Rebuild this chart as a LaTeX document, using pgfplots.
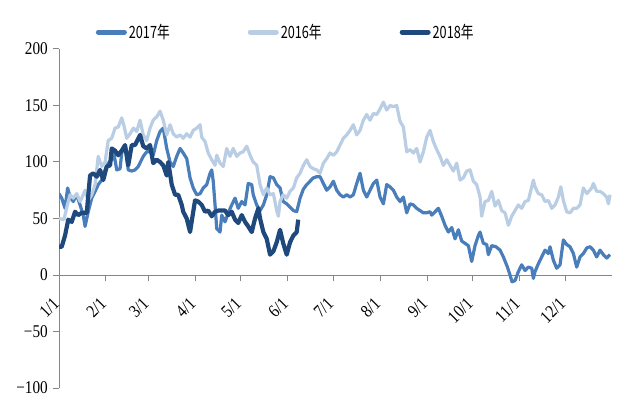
\documentclass[border=0pt]{standalone}
\usepackage{fontspec}
\setmainfont{Liberation Serif}[FakeStretch=0.85]
\newfontfamily\cjk{Noto Sans CJK SC}[FakeStretch=0.75]
\usepackage{pgfplots}
\pgfplotsset{compat=1.18}

\definecolor{c2017}{RGB}{74,126,187}
\definecolor{c2016}{RGB}{185,205,229}
\definecolor{c2018}{RGB}{31,73,125}
\definecolor{axisgray}{RGB}{134,134,134}

\begin{document}
\begin{tikzpicture}
\begin{axis}[
    name=ax,
    scale only axis,
    width=553bp, height=339bp,
    xmin=0, xmax=365, ymin=-100, ymax=200,
    axis x line*=middle, axis y line*=left,
    hide obscured x ticks=false, hide obscured y ticks=false,
    axis line style={draw=axisgray, line width=1bp},
    tick style={draw=axisgray, line width=1bp},
    tick align=outside, major tick length=6bp,
    xtick={0,31,59,90,120,151,181,212,243,273,304,334},
    xticklabels={1/1,2/1,3/1,4/1,5/1,6/1,7/1,8/1,9/1,10/1,11/1,12/1},
    ytick={-100,-50,0,50,100,150,200},
    yticklabels={−100,−50,0,50,100,150,200},
    tick label style={font=\fontsize{18}{18}\selectfont},
    xticklabel style={xshift=-7bp, yshift=-14bp, rotate=45, anchor=north east, inner sep=1bp},
    yticklabel style={inner sep=5bp},
    legend columns=3,
    legend style={at={(0.41,1.05)}, anchor=center, draw=none, fill=none,
        font=\cjk\fontsize{17}{17}\selectfont,
        /tikz/every even column/.append style={column sep=76bp}},
    legend image code/.code={\draw[#1, line width=5bp, line cap=round] (0bp,0bp) -- (26bp,0bp);},
    line join=round,
]
% 2017
\addplot[color=c2017, line width=3.2bp] coordinates {
(0,72)(1.8,68)(4.0,59)(5.7,77)(7.3,69)(9.4,65)(11.7,71)(13.9,62)(16.0,53)(17.2,43)
(19.3,56)(21.6,68)(23.8,74)(25.9,80)(28.2,84)(30.4,93)(32.5,99)(34.8,102)(35.8,111)(38.1,93)
(40.3,94)(41.4,108)(43.6,115)(45.7,93)(48.0,92)(50.2,93)(52.3,96)(55.6,105)(57.9,109)(60.1,109)
(62.2,106)(64.5,119)(66.7,127)(68.8,130)(71.1,112)(73.3,100)(75.4,96)(77.7,105)(79.9,112)(82.0,108)
(84.3,103)(86.5,86)(88.6,77)(90.9,71)(93.1,72)(95.2,77)(97.5,80)(99.7,90)(100.8,93)(101.8,83)
(103.0,62)(104.1,41)(106.3,38)(107.4,53)(109.6,47)(111.7,55)(114.0,62)(116.2,68)(118.3,59)(120.6,65)
(122.8,62)(124.9,81)(127.2,80)(128.2,71)(130.5,62)(132.7,57)(134.9,62)(137.1,71)(139.3,87)(141.5,86)
(143.7,80)(145.9,77)(148.0,65)(150.3,63)(152.5,60)(154.7,57)(156.9,56)(159.1,68)(161.3,76)(163.5,80)
(165.7,83)(167.9,86)(170.1,87)(172.3,87)(174.5,81)(176.7,75)(178.9,78)(181.1,83)(183.3,75)(185.5,71)
(187.7,69)(189.9,71)(192.1,69)(194.3,71)(196.5,81)(198.7,90)(200.9,75)(203.1,69)(205.3,75)(207.5,81)
(209.7,84)(211.9,69)(214.1,63)(216.3,80)(218.5,78)(220.7,75)(222.9,69)(225.1,65)(227.3,69)(229.5,55)
(231.7,63)(233.9,62)(236.1,59)(238.3,57)(240.5,55)(242.7,55)(244.9,56)(246.0,53)(248.2,56)(250.4,59)
(252.6,52)(254.8,44)(257.0,38)(259.2,42)(261.4,32)(263.6,40)(265.8,30)(268.0,28)(270.2,26)(272.4,12)
(274.6,26)(276.8,35)(277.9,38)(280.1,28)(282.3,27)(283.4,18)(285.6,26)(288.4,25)(291.1,22)(293.3,16)
(295.7,8)(297.7,0)(299.0,-6)(301.0,-5)(303.2,3)(305.4,9)(307.6,4)(309.8,7)(312.0,6)(313.1,-3)
(314.2,3)(316.4,10)(318.6,16)(320.8,22)(323.0,19)(324.1,25)(326.3,13)(328.5,6)(330.7,9)(332.9,31)
(335.1,27)(337.3,25)(339.5,19)(341.7,7)(343.9,16)(346.1,19)(348.4,24)(350.5,25)(352.7,22)(354.9,16)
(357.1,22)(359.3,18)(361.5,15)(363.7,18)
};
\addlegendentry{2017年}
% 2016
\addplot[color=c2016, line width=3.2bp] coordinates {
(0,50)(3.3,49)(5.5,62)(7.3,71)(9.4,68)(11.7,72)(13.9,65)(16.0,71)(17.2,75)(19.3,66)
(21.6,71)(23.8,80)(25.9,105)(28.2,96)(30.4,100)(32.5,119)(34.8,121)(37.0,130)(39.1,131)(41.4,139)
(43.1,131)(44.7,121)(46.9,125)(49.1,130)(51.3,127)(53.5,137)(55.6,124)(57.9,119)(60.1,130)(62.2,137)
(64.5,140)(66.7,145)(68.8,137)(71.1,124)(73.3,133)(75.4,125)(77.7,122)(79.9,124)(82.0,121)(84.3,125)
(86.5,122)(88.6,128)(90.9,130)(93.1,133)(94.2,122)(96.4,118)(98.5,108)(100.8,102)(103.0,97)(104.1,106)
(106.3,99)(108.4,96)(110.7,112)(112.9,105)(115.0,112)(117.3,105)(119.5,108)(121.6,109)(123.9,114)(126.1,106)
(128.2,100)(130.5,97)(132.7,80)(134.9,71)(137.1,77)(139.3,71)(141.5,72)(143.7,57)(144.8,52)(145.9,65)
(148.0,71)(150.3,68)(152.5,74)(154.7,77)(156.9,86)(159.1,90)(161.3,97)(163.5,102)(165.7,96)(167.9,94)
(170.1,93)(172.3,90)(174.5,99)(176.7,103)(178.9,108)(181.1,106)(183.3,109)(185.5,115)(187.7,121)(189.9,124)
(192.1,128)(194.3,133)(196.5,124)(198.7,128)(200.9,137)(203.1,142)(205.3,137)(207.5,143)(209.7,142)(211.9,147)
(214.1,153)(216.3,146)(218.5,150)(220.7,149)(222.9,150)(225.1,136)(227.3,131)(229.5,109)(231.7,111)(233.9,108)
(236.1,112)(238.3,100)(240.5,109)(242.7,122)(244.9,128)(247.1,118)(249.3,111)(251.5,105)(253.7,97)(255.9,102)
(258.1,97)(260.3,92)(262.5,99)(264.7,84)(266.9,86)(269.1,92)(271.3,93)(273.5,83)(275.7,80)(277.9,69)
(279.0,52)(281.2,65)(283.4,66)(285.6,74)(287.8,61)(290.0,66)(292.2,57)(294.4,55)(296.6,44)(298.8,52)
(301.0,57)(303.2,62)(305.4,59)(307.6,65)(309.8,66)(310.9,72)(313.1,84)(314.2,78)(316.4,72)(318.6,71)
(320.8,65)(323.0,66)(325.2,59)(327.4,62)(329.6,69)(331.2,78)(332.9,66)(335.1,56)(337.3,55)(339.5,59)
(341.7,59)(343.9,62)(346.1,77)(348.4,72)(351.6,77)(352.7,81)(354.9,74)(357.1,74)(359.3,72)(361.5,69)
(362.6,63)(363.7,71)
};
\addlegendentry{2016年}
% 2018
\addplot[color=c2018, line width=4.2bp] coordinates {
(0,25)(1.8,25)(4.0,35)(6.1,49)(8.4,47)(10.6,56)(12.7,53)(15.0,55)(18.3,55)(20.5,88)
(22.6,90)(24.9,87)(27.1,93)(29.2,84)(31.5,96)(33.7,97)(34.8,112)(37.0,110)(39.1,106)(41.4,110)
(43.6,115)(45.7,97)(48.0,115)(50.2,115)(53.5,124)(55.6,114)(57.9,112)(60.1,115)(62.2,99)(64.5,102)
(66.7,100)(68.8,97)(71.1,88)(72.1,100)(74.4,80)(76.6,71)(78.7,71)(81.0,62)(82.0,56)(84.3,50)
(86.5,38)(88.6,56)(89.8,66)(91.9,65)(94.2,62)(96.4,56)(98.5,57)(100.8,52)(103.0,56)(105.1,57)
(107.4,57)(109.6,57)(111.7,53)(114.0,56)(116.2,49)(118.3,46)(120.6,53)(122.8,47)(124.9,43)(127.2,38)
(129.4,50)(131.6,59)(132.7,50)(134.9,38)(137.1,32)(139.3,18)(141.5,21)(143.7,29)(145.9,40)(148.0,28)
(150.3,18)(152.5,29)(154.7,35)(156.9,38)(157.9,49)
};
\addlegendentry{2018年}
\end{axis}
\pgfresetboundingbox
\path ([shift={(-59bp,-14bp)}]ax.south west) rectangle ([shift={(5bp,49bp)}]ax.north east);
\end{tikzpicture}
\end{document}
